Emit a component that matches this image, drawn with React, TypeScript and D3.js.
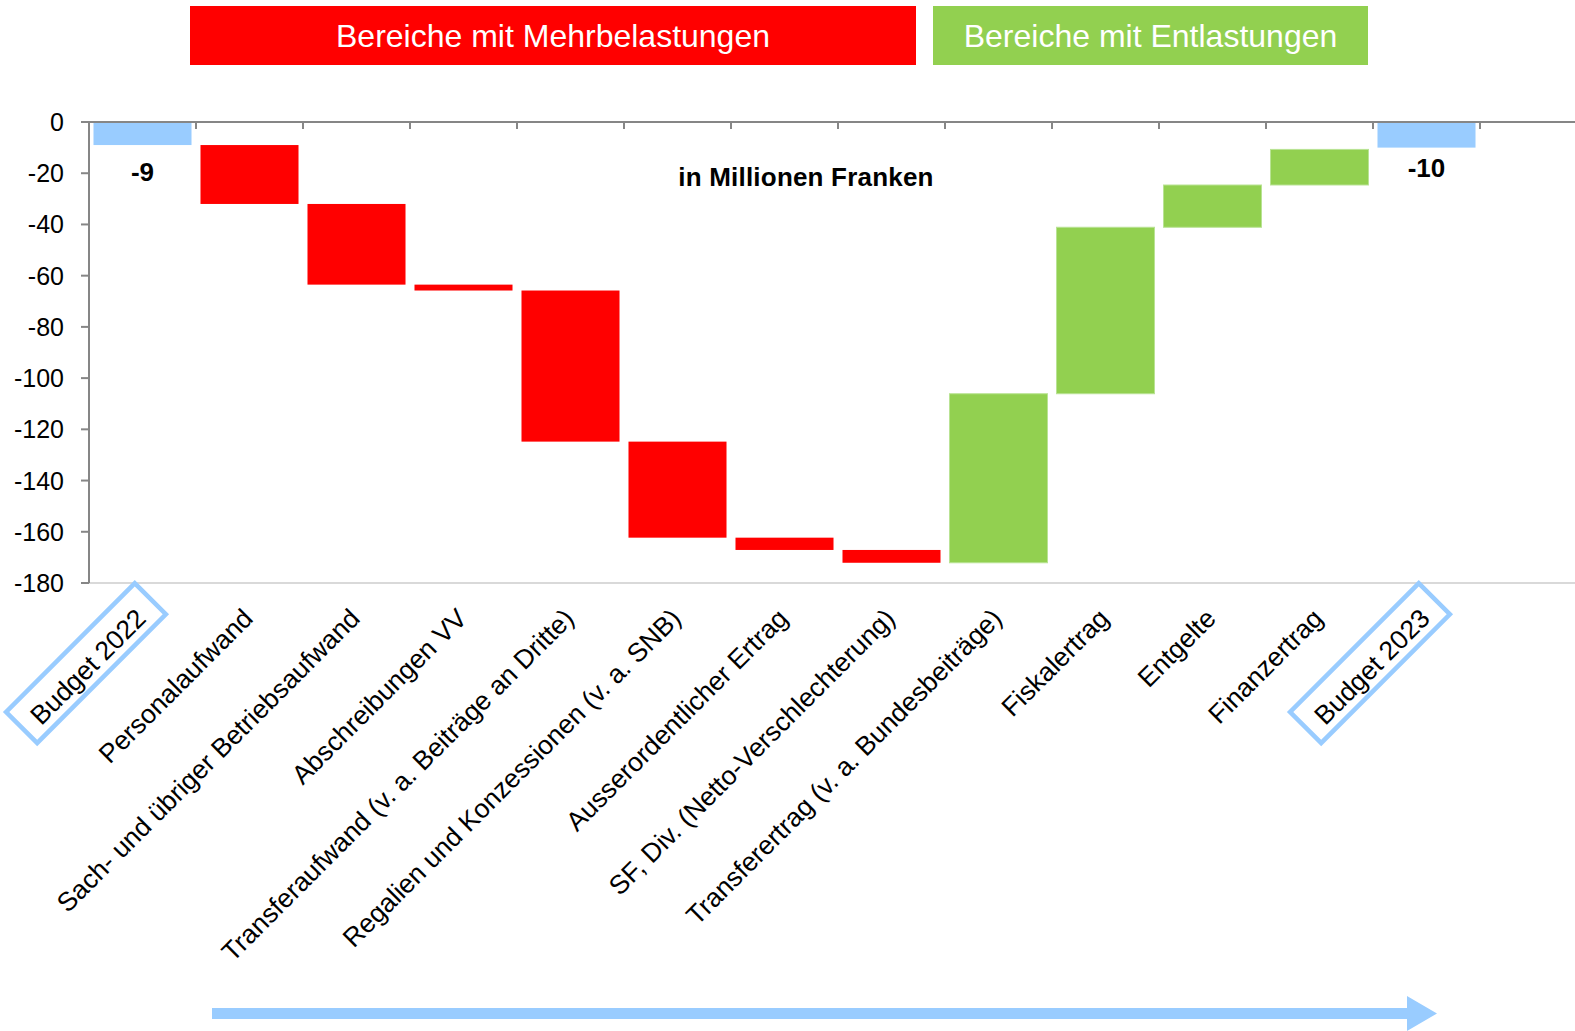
import * as d3 from "d3";

const categories = [
  "Budget 2022",
  "Personalaufwand",
  "Sach- und übriger Betriebsaufwand",
  "Abschreibungen VV",
  "Transferaufwand (v. a. Beiträge an Dritte)",
  "Regalien und Konzessionen (v. a. SNB)",
  "Ausserordentlicher Ertrag",
  "SF, Div. (Netto-Verschlechterung)",
  "Transferertrag (v. a. Bundesbeiträge)",
  "Fiskalertrag",
  "Entgelte",
  "Finanzertrag",
  "Budget 2023",
];

// running level (in Mio. Fr.) after each item
const levels = [-9, -32, -63.5, -65.8, -124.8, -162.3, -167.1, -172.1, -106.1, -41.1, -24.6, -10.7, -10];

// kind of each bar: total, burden (Mehrbelastung), relief (Entlastung)
const kinds = ["total", "up", "up", "up", "up", "up", "up", "up", "down", "down", "down", "down", "total"];

const valueLabels = ["-9", "", "", "", "", "", "", "", "", "", "", "", "-10"];

const yTicks = [0, -20, -40, -60, -80, -100, -120, -140, -160, -180];

const banners = [
  { text: "Bereiche mit Mehrbelastungen", color: "#FF0000", x0: 190, x1: 916 },
  { text: "Bereiche mit Entlastungen", color: "#92D050", x0: 933, x1: 1368 },
];

const WIDTH = 1575;
const HEIGHT = 1031;
const FONT = "'Liberation Sans', Arial, Helvetica, sans-serif";

const colors = { total: "#99CCFF", up: "#FF0000", down: "#92D050" };

export default function App() {
  const x = d3
    .scaleBand()
    .domain(categories)
    .range([89, 1480])
    .paddingInner(0.084)
    .paddingOuter(0.042);

  const y = d3.scaleLinear().domain([0, -180]).range([122, 583]);

  const step = x.step();

  const bars = categories.map((c, i) => {
    const from = kinds[i] === "total" ? 0 : levels[i - 1];
    const to = levels[i];
    return {
      cat: c,
      kind: kinds[i],
      x: x(c),
      y: y(Math.max(from, to)),
      h: Math.abs(y(from) - y(to)),
    };
  });

  return (
    <svg
      width={WIDTH}
      height={HEIGHT}
      style={{ position: "absolute", left: 0, top: 0, background: "#fff" }}
      fontFamily={FONT}
    >
      {/* banners */}
      {banners.map((b) => (
        <g key={b.text}>
          <rect x={b.x0} y={6} width={b.x1 - b.x0} height={59} fill={b.color} />
          <text x={(b.x0 + b.x1) / 2} y={47} fill="#fff" fontSize={32} textAnchor="middle">
            {b.text}
          </text>
        </g>
      ))}

      {/* bottom gridline */}
      <line x1={89} x2={WIDTH} y1={y(-180)} y2={y(-180)} stroke="#d9d9d9" strokeWidth={2} />

      {/* bars */}
      {bars.map((b) => (
        <rect
          key={b.cat}
          x={b.x}
          y={b.y}
          width={x.bandwidth()}
          height={b.h}
          fill={colors[b.kind]}
          stroke={b.kind === "down" ? "#b9e394" : "none"}
          strokeWidth={1}
        />
      ))}

      {/* y axis */}
      <line x1={89} x2={89} y1={y(0)} y2={y(-180)} stroke="#868686" strokeWidth={2} />
      {yTicks.map((t) => (
        <g key={t}>
          <line x1={81} x2={89} y1={y(t)} y2={y(t)} stroke="#868686" strokeWidth={2} />
          <text x={64} y={y(t)} dy="0.36em" textAnchor="end" fontSize={25} fill="#000">
            {String(t)}
          </text>
        </g>
      ))}

      {/* category axis at zero */}
      <line x1={81} x2={WIDTH} y1={y(0)} y2={y(0)} stroke="#868686" strokeWidth={2} />
      {d3.range(1, categories.length + 1).map((i) => (
        <line
          key={i}
          x1={89 + i * step}
          x2={89 + i * step}
          y1={y(0)}
          y2={y(0) + 7}
          stroke="#868686"
          strokeWidth={2}
        />
      ))}

      {/* value labels for the two budget totals */}
      {categories.map((c, i) =>
        valueLabels[i] ? (
          <text
            key={c}
            x={x(c) + x.bandwidth() / 2}
            y={i === 0 ? y(levels[i]) + 36 : y(levels[i]) + 29}
            textAnchor="middle"
            fontSize={26}
            fontWeight="bold"
          >
            {valueLabels[i]}
          </text>
        ) : null
      )}

      <text x={806} y={186} textAnchor="middle" fontSize={26} fontWeight="bold" letterSpacing={0.2}>
        in Millionen Franken
      </text>

      {/* rotated category labels */}
      {categories.map((c, i) => (
        <g key={c} transform={`translate(${x(c) + x.bandwidth() / 2 + 5},620) rotate(-45)`}>
          {kinds[i] === "total" && (
            <rect x={-165} y={-35} width={182} height={44} fill="none" stroke="#99CCFF" strokeWidth={4.5} />
          )}
          <text textAnchor="end" fontSize={26.5} fill="#000">
            {c}
          </text>
        </g>
      ))}

      {/* direction arrow */}
      <path d="M212,1008 L1407,1008 L1407,996 L1437,1013.5 L1407,1031 L1407,1019 L212,1019 Z" fill="#99CCFF" />
    </svg>
  );
}
